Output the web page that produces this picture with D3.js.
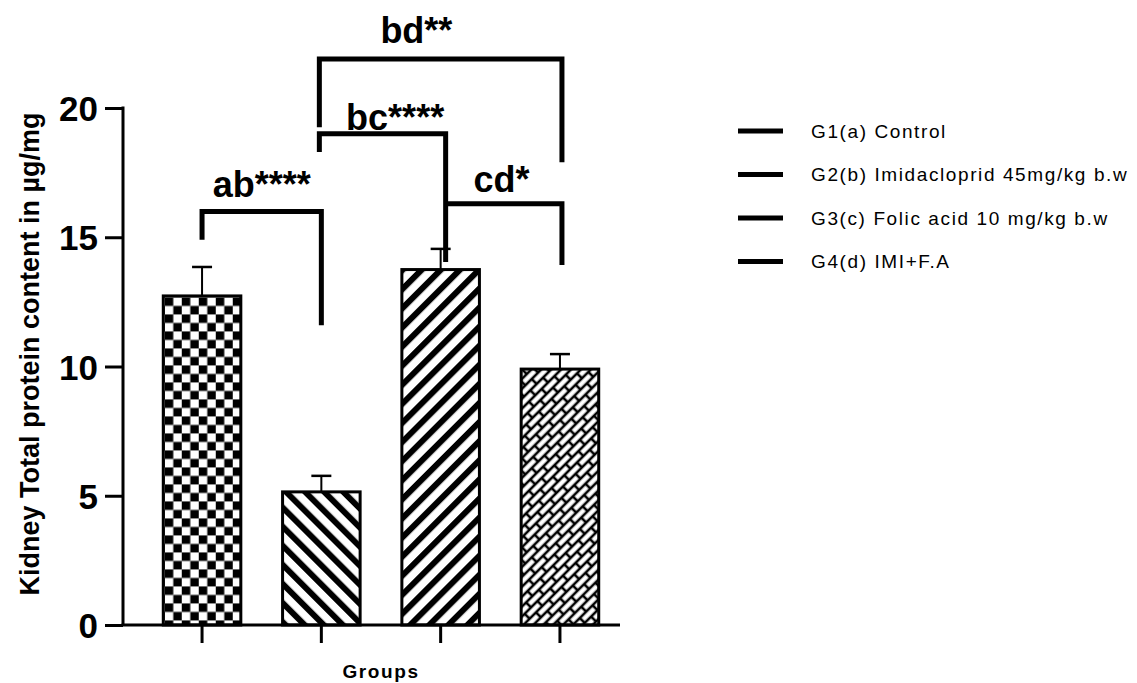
<!DOCTYPE html>
<html><head><meta charset="utf-8">
<script src="https://cdn.jsdelivr.net/npm/d3@7"></script>
<style>body{margin:0;background:#fff}svg{display:block}text{font-family:"Liberation Sans",Arial,sans-serif}</style>
</head><body>
<svg id="c" width="1137" height="683"></svg>
<script>
const groups = ["G1(a) Control","G2(b) Imidacloprid 45mg/kg b.w","G3(c) Folic acid 10 mg/kg b.w","G4(d) IMI+F.A"];
const means = [12.73, 5.15, 13.75, 9.9];
const errors = [1.12, 0.62, 0.8, 0.58];
const patterns = ["checker","back","fwd","brick"];
const yTicks = [0,5,10,15,20];
// significance brackets (y values in data units)
const brackets = [
  {a:0,b:1,y:16.0,l:14.9,r:11.6,label:"ab****",ly:16.56,lx:0.5},
  {a:1,b:2,y:19.0,l:18.3,r:14.04,label:"bc****",ly:19.15,lx:0.6},
  {a:2,b:3,y:16.3,l:null,r:13.93,label:"cd*",ly:16.75,lx:0.48},
  {a:1,b:3,y:21.9,l:19.26,r:17.9,label:"bd**",ly:22.5,lx:0.4}
];

const svg = d3.select("#c");
const y = d3.scaleLinear().domain([0,20]).range([625,108]);
const x = d3.scaleBand().domain(d3.range(4)).range([142.4,619.6]).paddingInner(0.35).paddingOuter(0.175);
const cx = i => x(i) + x.bandwidth()/2;

const defs = svg.append("defs");
// checkerboard
const pc = defs.append("pattern").attr("id","checker").attr("patternUnits","userSpaceOnUse")
  .attr("width",17).attr("height",17).attr("x",x(0)+1.5).attr("y",y(means[0])+1.5);
pc.append("rect").attr("width",17).attr("height",17).attr("fill","#fff");
pc.append("rect").attr("width",8.5).attr("height",8.5).attr("fill","#000");
pc.append("rect").attr("x",8.5).attr("y",8.5).attr("width",8.5).attr("height",8.5).attr("fill","#000");
// stripes
[["back",-45],["fwd",45]].forEach(([id,ang])=>{
  const p = defs.append("pattern").attr("id",id).attr("patternUnits","userSpaceOnUse")
    .attr("width",13.5).attr("height",13.5).attr("patternTransform",`rotate(${ang})`);
  p.append("rect").attr("width",13.5).attr("height",13.5).attr("fill","#fff");
  p.append("rect").attr("width",6).attr("height",13.5).attr("fill","#000");
});
// diagonal bricks
const pb = defs.append("pattern").attr("id","brick").attr("patternUnits","userSpaceOnUse")
  .attr("width",18).attr("height",14).attr("patternTransform","rotate(-45)");
pb.append("rect").attr("width",18).attr("height",14).attr("fill","#000");
pb.append("rect").attr("x",1.3).attr("y",1.3).attr("width",15.4).attr("height",4.4).attr("fill","#fff");
pb.append("rect").attr("x",-7.7).attr("y",8.3).attr("width",15.4).attr("height",4.4).attr("fill","#fff");
pb.append("rect").attr("x",10.3).attr("y",8.3).attr("width",15.4).attr("height",4.4).attr("fill","#fff");

// error bars
const eb = svg.append("g").attr("stroke","#000");
means.forEach((m,i)=>{
  eb.append("line").attr("x1",cx(i)).attr("x2",cx(i)).attr("y1",y(m)).attr("y2",y(m+errors[i])).attr("stroke-width",2);
  eb.append("line").attr("x1",cx(i)-10).attr("x2",cx(i)+10).attr("y1",y(m+errors[i])).attr("y2",y(m+errors[i])).attr("stroke-width",2.5);
});
// bars
svg.append("g").selectAll("rect").data(means).join("rect")
  .attr("x",(d,i)=>x(i)).attr("width",x.bandwidth())
  .attr("y",d=>y(d)).attr("height",d=>y(0)-y(d))
  .attr("fill",(d,i)=>`url(#${patterns[i]})`).attr("stroke","#000").attr("stroke-width",3);

// y axis
const ya = svg.append("g").attr("transform","translate(123,0)")
  .call(d3.axisLeft(y).tickValues(yTicks).tickSize(18).tickPadding(7).tickSizeOuter(0));
ya.select(".domain").attr("stroke-width",3).attr("d",`M0,${y(20)-1.5}V${y(0)}`);
ya.selectAll(".tick line").attr("stroke-width",3);
ya.selectAll(".tick text").attr("font-size",35).attr("font-weight","bold").attr("fill","#000").attr("dy","0.36em");
// x axis
const xa = svg.append("g");
xa.append("line").attr("x1",121.5).attr("x2",620).attr("y1",y(0)).attr("y2",y(0)).attr("stroke","#000").attr("stroke-width",3);
xa.selectAll(".t").data(d3.range(4)).join("line").attr("class","t")
  .attr("x1",cx).attr("x2",cx).attr("y1",y(0)).attr("y2",y(0)+18).attr("stroke","#000").attr("stroke-width",3);
svg.append("text").attr("x",381).attr("y",678).attr("text-anchor","middle")
  .attr("font-size",19).attr("font-weight","bold").attr("letter-spacing",1.6).text("Groups");
svg.append("text").attr("transform",`translate(39,${(y(20)+600)/2}) rotate(-90)`).attr("text-anchor","middle")
  .attr("font-size",27).attr("font-weight","bold").text("Kidney Total protein content in µg/mg");

// brackets
const bg = svg.append("g").attr("fill","none").attr("stroke","#000").attr("stroke-width",5);
brackets.forEach(b=>{
  const x1 = cx(b.a) + (b.a===2?5:0) - (b.a===1?2:0);
  const x2 = cx(b.b) + (b.b===2?5:0) + (b.b===3?2:0);
  let d = "";
  if (b.l!==null) d += `M${x1},${y(b.l)}V${y(b.y)}`; else d += `M${x1},${y(b.y)}`;
  d += `H${x2}V${y(b.r)}`;
  bg.append("path").attr("d",d).attr("stroke-linejoin","miter").attr("stroke-linecap","butt");
  svg.append("text").attr("x",x1+(x2-x1)*b.lx).attr("y",y(b.ly)).attr("text-anchor","middle")
    .attr("font-size",36).attr("font-weight","bold").text(b.label);
});

// legend
const lg = svg.append("g");
groups.forEach((g,i)=>{
  const yy = 131 + i*43.5;
  lg.append("line").attr("x1",738).attr("x2",783).attr("y1",yy).attr("y2",yy).attr("stroke","#000").attr("stroke-width",5);
  lg.append("text").attr("x",811).attr("y",yy).attr("dy","0.36em").attr("font-size",19).attr("letter-spacing",1.6).text(g);
});
</script>
</body></html>
